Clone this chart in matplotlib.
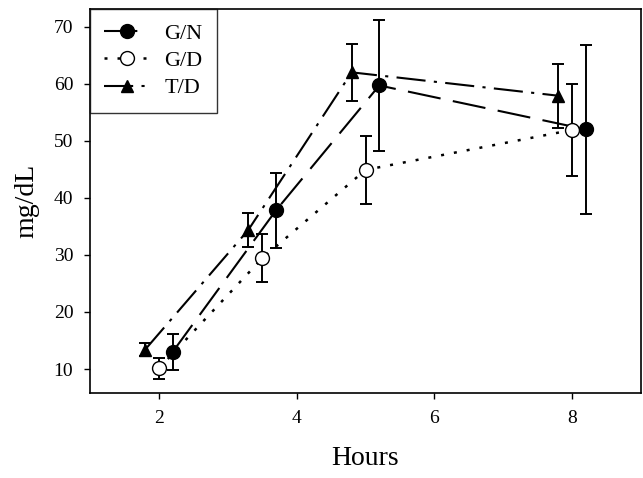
import matplotlib
matplotlib.use('Agg')
import matplotlib.pyplot as plt

plt.rcParams['font.family'] = ['Liberation Serif', 'DejaVu Serif']

# G/N
gn_x = [2.2, 3.7, 5.2, 8.2]
gn_y = [13.0, 37.8, 59.7, 52.0]
gn_err = [3.1, 6.5, 11.4, 14.8]

# G/D
gd_x = [2.0, 3.5, 5.0, 8.0]
gd_y = [10.1, 29.4, 44.9, 51.9]
gd_err = [1.8, 4.2, 6.0, 8.0]

# T/D
td_x = [1.8, 3.3, 4.8, 7.8]
td_y = [13.4, 34.4, 62.0, 57.9]
td_err = [1.2, 3.0, 5.0, 5.6]

x_ticks = [2, 4, 6, 8]
y_ticks = [10, 20, 30, 40, 50, 60, 70]

fig = plt.figure(figsize=(6.43, 4.78), dpi=100)
ax = fig.add_axes([90 / 643, 1 - 393 / 478, (641 - 90) / 643, (393 - 9) / 478])

err_kw = dict(fmt='none', ecolor='black', elinewidth=1.4, capsize=4.5, capthick=1.4)
ax.errorbar(gn_x, gn_y, yerr=gn_err, **err_kw)
ax.errorbar(gd_x, gd_y, yerr=gd_err, **err_kw)
ax.errorbar(td_x, td_y, yerr=td_err, **err_kw)

ax.plot(gn_x, gn_y, color='black', linestyle=(0, (16, 6)),
        linewidth=1.5, marker='o', markersize=10, markerfacecolor='black',
        markeredgecolor='black', label='G/N')
ax.plot(gd_x, gd_y, color='black', linestyle=(0, (1.2, 4)),
        linewidth=1.8, marker='o', markersize=10, markerfacecolor='white',
        markeredgecolor='black', label='G/D')
ax.plot(td_x, td_y, color='black', linestyle=(0, (14, 4, 1.5, 4)),
        linewidth=1.5, marker='^', markersize=9, markerfacecolor='black',
        markeredgecolor='black', label='T/D')

ax.set_xlim(1, 9)
ax.set_ylim(5.8, 73.1)
ax.set_xticks(x_ticks)
ax.set_yticks(y_ticks)
ax.tick_params(direction='out', length=4, width=1, labelsize=14, pad=8)
for s in ax.spines.values():
    s.set_linewidth(1.2)

ax.set_xlabel('Hours', fontsize=20, labelpad=14)
ax.set_ylabel('mg/dL', fontsize=20, labelpad=10)

leg = ax.legend(loc='upper left', fontsize=16, frameon=True, fancybox=False,
                borderaxespad=0, handlelength=2.0, borderpad=0.65,
                labelspacing=0.3, handletextpad=0.7)
leg.get_frame().set_edgecolor('black')
leg.get_frame().set_linewidth(1.0)

fig.savefig('out.png', dpi=100)
